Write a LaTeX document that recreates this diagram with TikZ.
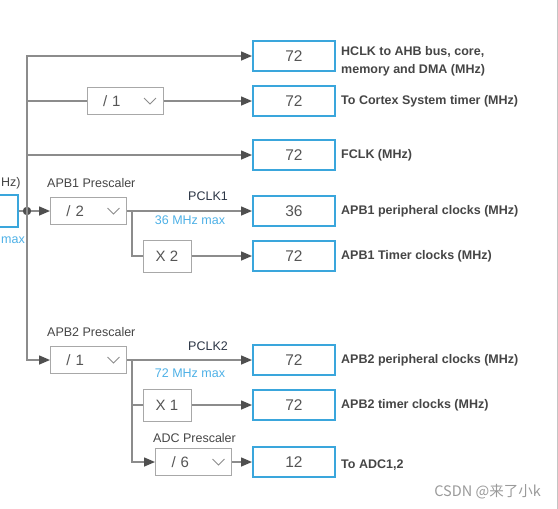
\documentclass[tikz,border=0pt]{standalone}
\usepackage{fontspec}
\setmainfont{Liberation Sans}
\newfontfamily\cjkfont{Noto Sans CJK SC}
\usetikzlibrary{arrows.meta,positioning,calc}
\definecolor{wiregray}{HTML}{8C8C8C}
\definecolor{tipgray}{HTML}{4F4F4F}
\definecolor{boxgray}{HTML}{A8A8A8}
\definecolor{skyblue}{HTML}{3AA6DC}
\definecolor{numgray}{HTML}{555555}
\definecolor{lblgray}{HTML}{454545}
\definecolor{noteblue}{HTML}{4DB0E6}
\definecolor{pclknavy}{HTML}{2B3545}
\definecolor{framegray}{HTML}{C4C4C4}
\definecolor{markgray}{HTML}{9A9A9A}
\tikzset{
    wire/.style = {draw=wiregray, line width=1.5pt},
    feed/.style = {wire, -{Triangle[length=11pt,width=9pt,color=tipgray]}},
    point/.style = {circle, fill=tipgray, inner sep=3pt},
    outbox/.style = {draw=skyblue, line width=2pt, minimum width=82pt, minimum height=30pt,
        inner sep=0pt, text=numgray, font=\fontsize{15.5}{18}\selectfont},
    presc/.style = {draw=boxgray, line width=1pt, minimum height=27pt, text width=44pt,
        inner xsep=16pt, align=left, text=numgray, font=\fontsize{15}{18}\selectfont,
        path picture={\draw[wiregray, line width=1pt]
            ([xshift=-19pt,yshift=3pt]path picture bounding box.east) -- ++(6pt,-6pt) -- ++(6pt,6pt);}},
    mult/.style = {draw=boxgray, line width=1pt, minimum width=48pt, minimum height=32pt,
        inner sep=0pt, text=numgray, font=\fontsize{15}{18}\selectfont},
    outlbl/.style = {anchor=west, inner sep=0pt, align=left, text=lblgray,
        font=\bfseries\fontsize{12.5}{18}\selectfont},
    caption/.style = {inner sep=0pt, text=lblgray, font=\fontsize{12.5}{15}\selectfont},
    maxnote/.style = {caption, text=noteblue},
    pclk/.style = {caption, text=pclknavy}
}
\begin{document}
\begin{tikzpicture}[x=1pt,y=-1pt]
    \useasboundingbox (0,0) rectangle (558,509);
    \clip (0,0) rectangle (558,509);

    % input box, cut by the frame
    \node[outbox, minimum width=40pt, minimum height=32pt] (sysclk) at (-2,211) {};
    \node[caption, anchor=west] (sysunit) at (1,183) {Hz)};
    \node[maxnote, anchor=west] (sysmax) at (1,240) {max};

    % prescaler and multiplier boxes
    \node[presc] (ahb) at (125,101) {/ 1};
    \node[presc] (apbone) at (88.5,211) {/ 2};
    \node[presc] (apbtwo) at (88.5,360) {/ 1};
    \node[presc] (adcpre) at (193.5,462) {/ 6};
    \node[mult] (xtwo) at (167,256) {X 2};
    \node[mult] (xone) at (167,405) {X 1};

    % output boxes
    \node[outbox] (hclk) at (294,56) {72};
    \node[outbox] (systick) at (294,101) {72};
    \node[outbox] (fclk) at (294,155) {72};
    \node[outbox] (pone) at (294,211) {36};
    \node[outbox] (tone) at (294,256) {72};
    \node[outbox] (ptwo) at (294,360) {72};
    \node[outbox] (ttwo) at (294,405) {72};
    \node[outbox] (adcout) at (294,462) {12};

    % output labels
    \node[outlbl, right=5pt of hclk, yshift=-5pt] (hclklbl) {HCLK to AHB bus, core,\\memory and DMA (MHz)};
    \node[outlbl, right=5pt of systick] (systicklbl) {To Cortex System timer (MHz)};
    \node[outlbl, right=5pt of fclk] (fclklbl) {FCLK (MHz)};
    \node[outlbl, right=5pt of pone] (ponelbl) {APB1 peripheral clocks (MHz)};
    \node[outlbl, right=5pt of tone] (tonelbl) {APB1 Timer clocks (MHz)};
    \node[outlbl, right=5pt of ptwo] (ptwolbl) {APB2 peripheral clocks (MHz)};
    \node[outlbl, right=5pt of ttwo] (ttwolbl) {APB2 timer clocks (MHz)};
    \node[outlbl, right=5pt of adcout, yshift=-3pt] (adclbl) {To ADC1,2};

    % captions
    \node[caption, anchor=west] (apbonecap) at (47,183) {APB1 Prescaler};
    \node[caption, anchor=west] (apbtwocap) at (47,332) {APB2 Prescaler};
    \node[caption, anchor=west] (adccap) at (153,438) {ADC Prescaler};
    \node[pclk] (pclkone) at (208,196) {PCLK1};
    \node[pclk] (pclktwo) at (208,346) {PCLK2};
    \node[maxnote] (maxone) at (190,220) {36 MHz max};
    \node[maxnote] (maxtwo) at (190,373) {72 MHz max};

    % trunk
    \node[point] (hub) at (27,211) {};
    \coordinate (ahbtap) at (27,101);
    \coordinate (fclktap) at (27,155);
    \coordinate (tapone) at (132,211);
    \coordinate (taptwo) at (132,360);

    \draw[wire] (sysclk.east) -- (hub);
    \draw[feed] (hub) -- (apbone.west);
    \draw[feed] (hub.center) |- (hclk.west);
    \draw[feed] (hub.center) |- (apbtwo.west);
    \draw[wire] (ahbtap) -- (ahb.west);
    \draw[feed] (ahb.east) -- (systick.west);
    \draw[feed] (fclktap) -- (fclk.west);

    % APB1 branch
    \draw[feed] (apbone.east) -- (pone.west);
    \draw[wire] (tapone) |- (xtwo.west);
    \draw[feed] (xtwo.east) -- (tone.west);

    % APB2 branch
    \draw[feed] (apbtwo.east) -- (ptwo.west);
    \draw[wire] (taptwo |- xone.west) -- (xone.west);
    \draw[feed] (taptwo) |- (adcpre.west);
    \draw[feed] (xone.east) -- (ttwo.west);
    \draw[feed] (adcpre.east) -- (adcout.west);

    % frame and watermark
    \draw[framegray, line width=1pt] (557,0) -- (557,509);
    \node[anchor=east, inner sep=0pt, text=markgray, font=\cjkfont\fontsize{14.5}{17}\selectfont]
        (mark) at (541,492) {CSDN @来了小k};
\end{tikzpicture}
\end{document}
